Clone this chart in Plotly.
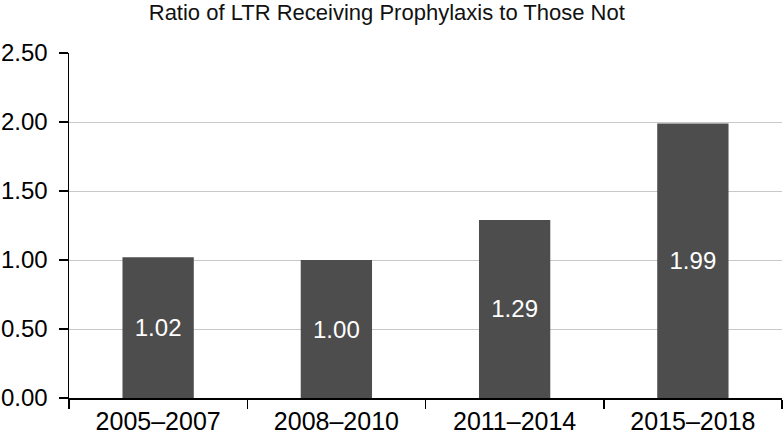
import plotly.graph_objects as go

categories = ["2005–2007", "2008–2010", "2011–2014", "2015–2018"]
ratios = [1.02, 1.00, 1.29, 1.99]
labels = ["1.02", "1.00", "1.29", "1.99"]
y_ticks = [0, 0.5, 1.0, 1.5, 2.0, 2.5]

FONT = "Liberation Sans, Arial, Helvetica, sans-serif"

fig = go.Figure(go.Bar(
    x=categories, y=ratios, text=labels,
    textposition="inside", insidetextanchor="middle",
    textfont=dict(color="white", size=24, family=FONT),
    marker=dict(color="#4d4d4d", line=dict(width=0)),
    width=0.4, cliponaxis=False, hoverinfo="skip",
))

fig.update_layout(
    width=783, height=445,
    margin=dict(l=69, r=1, t=53, b=47, autoexpand=False),
    paper_bgcolor="white", plot_bgcolor="white",
    font=dict(family=FONT, size=22, color="black"),
    title=dict(text="Ratio of LTR Receiving Prophylaxis to Those Not",
               x=0.494, xanchor="center", y=0.99, yanchor="top",
               font=dict(size=22, family=FONT, color="#111111")),
    showlegend=False,
)
fig.update_xaxes(
    showline=True, linecolor="black", linewidth=1.5, automargin=False,
    ticks="outside", tickson="boundaries", ticklen=9, tickcolor="black", tickwidth=1.5,
    showgrid=False, tickfont=dict(size=25),
)
fig.update_yaxes(
    range=[0, 2.5], tickvals=y_ticks, tickformat=".2f", automargin=False,
    showline=True, linecolor="black", linewidth=1.5,
    ticks="outside", ticklen=9, tickcolor="black", tickwidth=1.5,
    showgrid=True, gridcolor="#c8c8c8", gridwidth=1, zeroline=False,
    tickfont=dict(size=24), ticklabelstandoff=6,
)

fig.write_html("out.html",
               config={"displayModeBar": False, "staticPlot": True},
               post_script="document.body.style.margin='0';document.body.style.overflow='hidden';")
